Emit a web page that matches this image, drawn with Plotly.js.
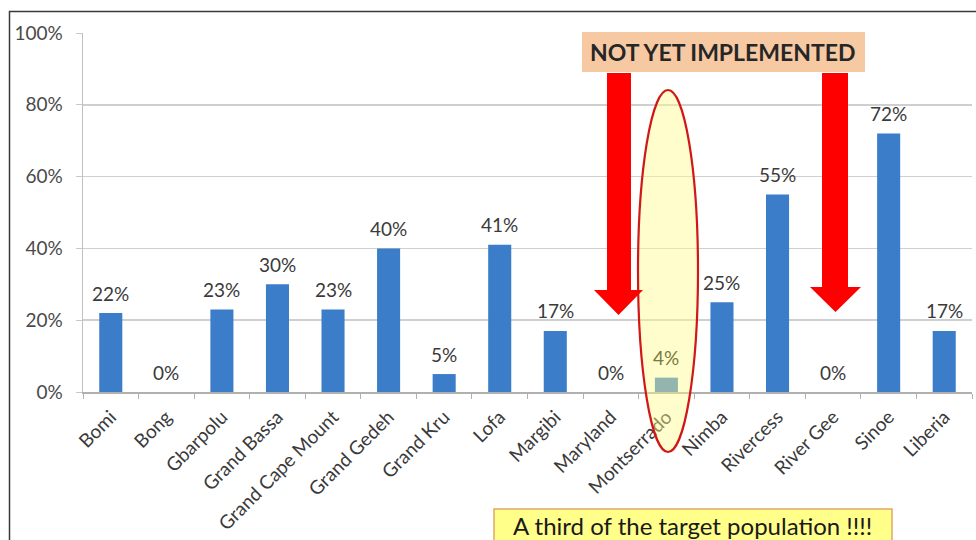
<!DOCTYPE html>
<html>
<head>
<meta charset="utf-8">
<script src="https://cdn.plot.ly/plotly-3.0.1.min.js"></script>
<style>html,body{margin:0;padding:0;background:#fff;}#chart{width:976px;height:540px;}</style>
</head>
<body>
<div id="chart"></div>
<script>
// ---- data ----
const categories = ["Bomi", "Bong", "Gbarpolu", "Grand Bassa", "Grand Cape Mount", "Grand Gedeh",
  "Grand Kru", "Lofa", "Margibi", "Maryland", "Montserrado", "Nimba", "Rivercess", "River Gee",
  "Sinoe", "Liberia"];
const coverage = [0.22, 0, 0.23, 0.30, 0.23, 0.40, 0.05, 0.41, 0.17, 0, 0.04, 0.25, 0.55, 0, 0.72, 0.17];
const yTickValues = [0, 0.2, 0.4, 0.6, 0.8, 1.0];
const yTickLabels = ["0%", "20%", "40%", "60%", "80%", "100%"];
const bannerText = "NOT YET IMPLEMENTED";
const noteText = "A third of the target population !!!!";
const highlighted = "Montserrado";

// ---- layout helpers (pixel -> paper) ----
const M = {l: 83, r: 4, t: 33, b: 148};
const PW = 976 - M.l - M.r, PH = 540 - M.t - M.b;
const px = x => (x - M.l) / PW;
const py = y => (540 - M.b - y) / PH;

const FONT = "Lato, 'Open Sans', sans-serif";
const barBlue = "#3b7dc8";

const trace = {
  type: "bar",
  x: categories,
  y: coverage,
  marker: {color: barBlue},
  hoverinfo: "skip"
};

const valueLabels = categories.map((c, i) => ({
  x: c, y: coverage[i], xref: "x", yref: "y",
  text: Math.round(coverage[i] * 100) + "%",
  showarrow: false, yanchor: "middle", yshift: 20,
  font: {family: FONT, size: 19, color: c === highlighted ? "#7a7a40" : "#3a3a3a"}
}));

function arrowPath(x0, x1, hx0, hx1, top, headY, tipY) {
  const tx = (hx0 + hx1) / 2;
  const pts = [[x0, top], [x1, top], [x1, headY], [hx1, headY], [tx, tipY], [hx0, headY], [x0, headY]];
  return "M" + pts.map(p => px(p[0]).toFixed(5) + "," + py(p[1]).toFixed(5)).join(" L") + " Z";
}

const shapes = [
  // outer frame
  {type: "rect", xref: "paper", yref: "paper", x0: px(9.5), x1: px(990), y0: py(560), y1: py(11.5),
   line: {color: "#3a3a3a", width: 1.5}, fillcolor: "rgba(0,0,0,0)", layer: "above"},
  // highlight ellipse
  {type: "circle", xref: "paper", yref: "paper", x0: px(638), x1: px(698), y0: py(452), y1: py(90),
   line: {color: "#d01818", width: 2.2}, fillcolor: "rgba(255,250,140,0.45)", layer: "above"},
  // banner box
  {type: "rect", xref: "paper", yref: "paper", x0: px(582), x1: px(865), y0: py(72), y1: py(32),
   line: {width: 0}, fillcolor: "#f7c9a2", layer: "above"},
  // red arrows
  {type: "path", xref: "paper", yref: "paper", path: arrowPath(607, 631, 594, 643, 73, 290, 315),
   line: {width: 0}, fillcolor: "#ff0000", layer: "above"},
  {type: "path", xref: "paper", yref: "paper", path: arrowPath(822, 848, 810, 861, 73, 287, 312),
   line: {width: 0}, fillcolor: "#ff0000", layer: "above"},
  // note box
  {type: "rect", xref: "paper", yref: "paper", x0: px(494), x1: px(892), y0: py(560), y1: py(509),
   line: {color: "#e0a868", width: 1.5}, fillcolor: "#ffff8a", layer: "above"}
];

const annotations = valueLabels.concat([
  {xref: "paper", yref: "paper", x: px(722), y: py(52), text: "<b>" + bannerText + "</b>",
   showarrow: false, xanchor: "center", yanchor: "middle",
   font: {family: FONT, size: 23, color: "#262626"}},
  {xref: "paper", yref: "paper", x: px(692), y: py(525), text: noteText,
   showarrow: false, xanchor: "center", yanchor: "middle",
   font: {family: FONT, size: 24, color: "#1a1a1a"}}
]);

const layout = {
  width: 976, height: 540,
  margin: M,
  paper_bgcolor: "#ffffff", plot_bgcolor: "#ffffff",
  showlegend: false,
  bargap: 0.585,
  font: {family: FONT},
  xaxis: {
    type: "category",
    tickangle: -45,
    tickson: "boundaries",
    ticks: "outside", ticklen: 5, tickcolor: "#b0b0b0",
    ticklabelstandoff: 5,
    showline: true, linecolor: "#b0b0b0", linewidth: 1.5,
    showgrid: false, zeroline: false,
    tickfont: {family: FONT, size: 19, color: "#3a3a3a"},
    fixedrange: true
  },
  yaxis: {
    range: [0, 1],
    tickvals: yTickValues, ticktext: yTickLabels,
    ticks: "outside", ticklen: 6, tickcolor: "#c8c8c8",
    ticklabelstandoff: 9,
    showline: true, linecolor: "#c0c0c0", linewidth: 1.5,
    showgrid: true, gridcolor: "#cfcfcf", gridwidth: 1.5,
    zeroline: false,
    tickfont: {family: FONT, size: 19, color: "#4a4a4a"},
    fixedrange: true
  },
  shapes: shapes,
  annotations: annotations
};

Plotly.newPlot("chart", [trace], layout, {displayModeBar: false, staticPlot: true});
</script>
</body>
</html>
